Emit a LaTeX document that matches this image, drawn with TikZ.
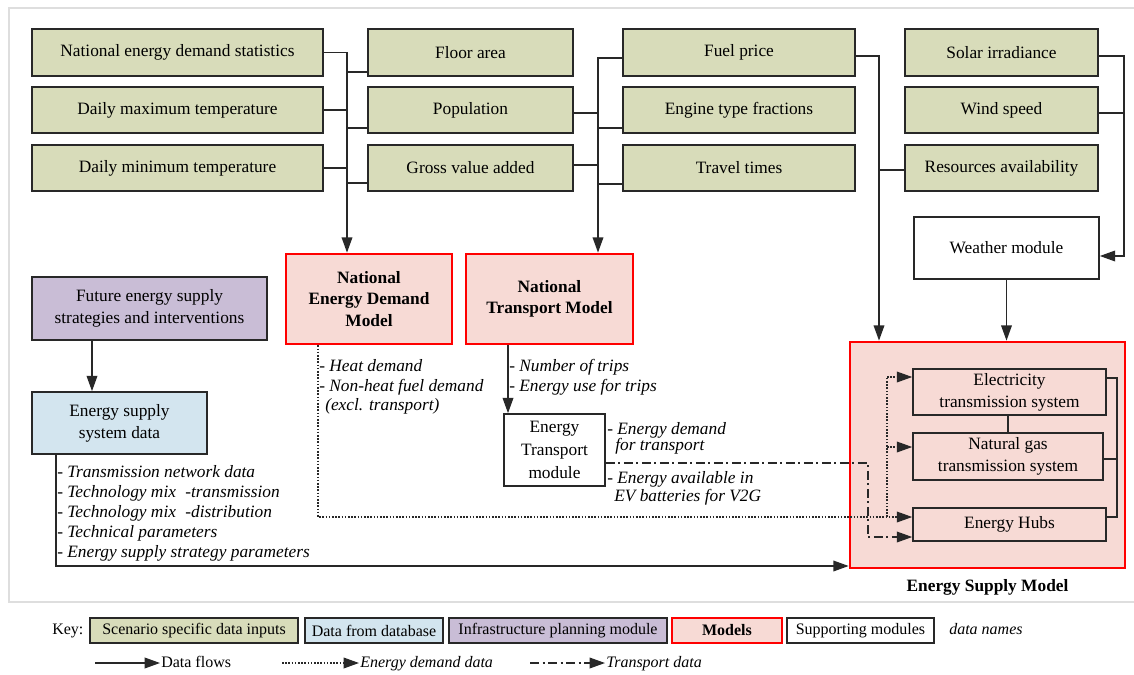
\documentclass[tikz,border=0pt]{standalone}
\usepackage{fontspec}
\setmainfont{Liberation Serif}
\usetikzlibrary{arrows.meta,calc}
\definecolor{gfill}{RGB}{216,220,186}
\definecolor{ufill}{RGB}{201,189,214}
\definecolor{bfill}{RGB}{211,229,239}
\definecolor{pfill}{RGB}{247,218,213}
\definecolor{bord}{RGB}{40,40,40}
\definecolor{framec}{RGB}{222,222,222}
\tikzset{
 box/.style={draw=bord, line width=1.2pt, inner sep=2pt, align=center, font=\fontsize{13}{16.5}\selectfont},
 gbox/.style={box, fill=gfill},
 ubox/.style={box, fill=ufill},
 bbox/.style={box, fill=bfill},
 wbox/.style={box, fill=white},
 ibox/.style={box, fill=pfill},
 model/.style={box, draw=red, line width=2pt, fill=pfill, font=\fontsize{13}{16}\selectfont\bfseries},
 kbox/.style={draw=bord, line width=1.1pt, inner sep=2pt, align=center, font=\fontsize{12}{14}\selectfont},
 conn/.style={line width=1.1pt, draw=bord},
 tip/.style={-{Triangle[length=11.5pt,width=8pt]}},
 dataflow/.style={conn, tip},
 demline/.style={line width=1pt, draw=bord, dash pattern=on 1.2pt off 1.2pt},
 demflow/.style={demline, tip},
 trflow/.style={line width=1pt, draw=bord, dash pattern=on 7pt off 2.5pt on 1.5pt off 2.5pt, tip},
 lab/.style={inner sep=0, anchor=west, font=\fontsize{13}{15}\selectfont\itshape, text height=9pt, text depth=3pt},
 klab/.style={inner sep=0, anchor=west, font=\fontsize{12}{14}\selectfont, text height=8.5pt, text depth=2.5pt},
}
\newcommand{\bx}[7]{\node[#6, minimum width={(#4-#2)*0.75pt}, minimum height={(#5-#3)*0.75pt}] (#1) at ({(#2+#4)/2},{(#3+#5)/2}) {#7};}
\begin{document}
\begin{tikzpicture}[x=0.75pt,y=-0.75pt]
\useasboundingbox (0,0) rectangle (1134,674);
\draw[framec, line width=1.5pt] (1140,8) -- (9,8) -- (9,602) -- (1140,602);

% ---- energy supply model (background) ----
\bx{esm}{850}{342}{1125}{568}{model}{}
\node[font=\fontsize{13}{16}\selectfont\bfseries, anchor=north] (esml) at (esm.south) [yshift=-4pt] {Energy Supply Model};

% ---- input boxes ----
\bx{nes}{32}{29}{323}{76}{gbox}{National energy demand statistics}
\bx{dmax}{32}{87}{323}{133}{gbox}{Daily maximum temperature}
\bx{dmin}{32}{145}{323}{191}{gbox}{Daily minimum temperature}
\bx{fa}{368}{29}{573}{76}{gbox}{Floor area}
\bx{pop}{368}{87}{573}{133}{gbox}{Population}
\bx{gva}{368}{145}{573}{191}{gbox}{Gross value added}
\bx{fp}{623}{29}{855}{76}{gbox}{Fuel price}
\bx{eng}{623}{87}{855}{133}{gbox}{Engine type fractions}
\bx{tt}{623}{145}{855}{191}{gbox}{Travel times}
\bx{sol}{905}{29}{1098}{76}{gbox}{Solar irradiance}
\bx{wind}{905}{87}{1098}{133}{gbox}{Wind speed}
\bx{res}{905}{145}{1098}{191}{gbox}{Resources availability}

\bx{weather}{914}{217}{1099}{279}{wbox}{Weather module}
\bx{nedm}{286}{254}{452}{344}{model}{National\\Energy Demand\\Model}
\bx{ntm}{466}{254}{633}{344}{model}{National\\Transport Model}
\bx{fut}{32}{277}{267}{340}{ubox}{Future energy supply\\strategies and interventions}
\bx{esd}{32}{392}{207}{454}{bbox}{Energy supply\\system data}
\bx{etm}{504}{414}{605}{486}{wbox,font=\fontsize{13}{17.5}\selectfont}{Energy\\Transport\\module}

\bx{elec}{913}{369}{1106}{415}{ibox}{Electricity\\transmission system}
\bx{gas}{913}{433}{1103}{480}{ibox}{Natural gas\\transmission system}
\bx{hubs}{913}{508}{1106}{541}{ibox}{Energy Hubs}

% ---- bus 1 (to NEDM) ----
\coordinate (b1) at (347,52);
\draw[dataflow] (nes.east) -- (nes.east -| b1) -- (nedm.north -| b1);
\draw[conn] (dmax.east) -- (dmax.east -| b1);
\draw[conn] (dmin.east) -- (dmin.east -| b1);
\coordinate (b1a) at (347,72);  \draw[conn] (b1a) -- (b1a -| fa.west);
\coordinate (b1b) at (347,128); \draw[conn] (b1b) -- (b1b -| pop.west);
\coordinate (b1c) at (347,183); \draw[conn] (b1c) -- (b1c -| gva.west);

% ---- bus 2 (to NTM) ----
\coordinate (b2) at (598,58);
\draw[dataflow] (b2 -| fp.west) -- (b2) -- (ntm.north -| b2);
\coordinate (b2a) at (598,113); \draw[conn] (b2a -| pop.east) -- (b2a);
\coordinate (b2b) at (598,165); \draw[conn] (b2b -| gva.east) -- (b2b);
\coordinate (b2c) at (598,128); \draw[conn] (b2c) -- (b2c -| eng.west);
\coordinate (b2d) at (598,184); \draw[conn] (b2d) -- (b2d -| tt.west);

% ---- bus 3 (to ESM) ----
\coordinate (b3) at (879,56);
\draw[dataflow] (b3 -| fp.east) -- (b3) -- (esm.north -| b3);
\coordinate (b3a) at (879,170); \draw[conn] (b3a) -- (b3a -| res.west);

% ---- bus 4 (to weather) ----
\coordinate (b4) at (1124,56);
\coordinate (b4a) at (1124,113);
\coordinate (b4b) at (1124,256);
\draw[dataflow] (b4 -| sol.east) -- (b4) -- (b4b) -- (b4b -| weather.east);
\draw[conn] (b4a -| wind.east) -- (b4a);
\draw[dataflow] (weather.south) -- (weather.south |- esm.north);

% ---- supply data ----
\coordinate (c5) at (92,300);
\draw[dataflow] (fut.south -| c5) -- (esd.north -| c5);
\coordinate (c6) at (56,566);
\draw[dataflow] (esd.south -| c6) -- (c6) -- (c6 -| esm.west);
\node[lab] (l1) at (57,473) {- Transmission network data};
\node[lab] (l2) at (57,493) {- Technology mix\hspace{7pt}-transmission};
\node[lab] (l3) at (57,513) {- Technology mix\hspace{7pt}-distribution};
\node[lab] (l4) at (57,533) {- Technical parameters};
\node[lab] (l5) at (57,553) {- Energy supply strategy parameters};

% ---- transport ----
\coordinate (c7) at (508,380);
\draw[dataflow] (ntm.south -| c7) -- (etm.north -| c7);
\node[lab] (t1) at (509,367) {- Number of trips};
\node[lab] (t2) at (509,387) {- Energy use for trips};

% ---- energy demand (dotted) ----
\coordinate (c8) at (318,517);
\draw[demflow] (nedm.south -| c8) -- (c8) -- (c8 -| hubs.west);
\coordinate (c9) at (887,517);
\coordinate (c9a) at (887,377);
\coordinate (c9b) at (887,447);
\draw[demline] (c9) -- (c9a);
\draw[demflow] (c9a) -- (c9a -| elec.west);
\draw[demflow] (c9b) -- (c9b -| gas.west);
\node[lab] (d1) at (319,367) {- Heat demand};
\node[lab] (d2) at (319,387) {- Non-heat fuel demand};
\node[lab] (d3) at (325,406) {(excl. transport)};

% ---- transport data (dash-dot) ----
\coordinate (c10) at (868,463);
\coordinate (c10b) at (868,537);
\draw[trflow] (c10 -| etm.east) -- (c10) -- (c10b) -- (c10b -| hubs.west);
\node[lab] (e1) at (607,430) {- Energy demand};
\node[lab] (e2) at (615,446) {for transport};
\node[lab] (e3) at (607,479) {- Energy available in};
\node[lab] (e4) at (614,497) {EV batteries for V2G};

% ---- ESM internal ----
\draw[conn] (gas.north) -- (gas.north |- elec.south);
\coordinate (r1) at (1117,378);
\coordinate (r2) at (1117,459);
\coordinate (r3) at (1117,517);
\draw[conn] (r1 -| elec.east) -- (r1) -- (r3) -- (r3 -| hubs.east);
\draw[conn] (r2 -| gas.east) -- (r2);

% ---- key ----
\node[klab] (key) at (52,630) {Key:};
\bx{k1}{90}{618}{298}{643}{kbox,fill=gfill}{Scenario specific data inputs}
\bx{k2}{305}{618}{443}{643}{kbox,fill=bfill}{Data from database}
\bx{k3}{449}{618}{667}{643}{kbox,fill=ufill}{Infrastructure planning module}
\bx{k4}{672}{618}{782}{643}{kbox,fill=pfill,draw=red,line width=2pt,font=\fontsize{12}{14}\selectfont\bfseries}{Models}
\bx{k5}{787}{618}{934}{643}{kbox,fill=white}{Supporting modules}
\node[klab,font=\fontsize{12}{14}\selectfont\itshape] (kdn) at (949,630) {data names};

\coordinate (ka) at (95,663); \coordinate (kb) at (160,663);
\draw[dataflow] (ka) -- (kb);
\node[klab] (kt1) at (161,663) {Data flows};
\coordinate (kc) at (282,663); \coordinate (kd) at (359,663);
\draw[demflow] (kc) -- (kd);
\node[klab,font=\fontsize{12}{14}\selectfont\itshape] (kt2) at (360,663) {Energy demand data};
\coordinate (ke) at (530,663); \coordinate (kf) at (605,663);
\draw[trflow] (ke) -- (kf);
\node[klab,font=\fontsize{12}{14}\selectfont\itshape] (kt3) at (606,663) {Transport data};
\end{tikzpicture}
\end{document}
